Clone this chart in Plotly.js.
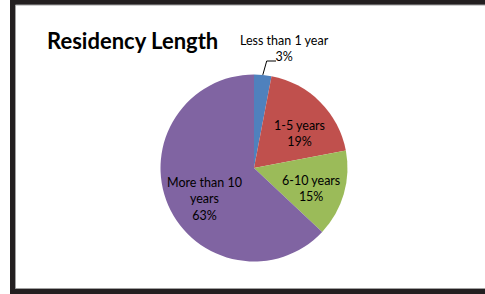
<!DOCTYPE html>
<html>
<head>
<meta charset="utf-8">
<script src="https://cdn.plot.ly/plotly-3.0.1.min.js"></script>
<style>html,body{margin:0;padding:0;background:#fff;}#chart{width:485px;height:294px;}</style>
</head>
<body>
<div id="chart"></div>
<script>
const labels = ['Less than 1 year', '1-5 years', '6-10 years', 'More than 10<br>years'];
const values = [3, 19, 15, 63];
const colors = ['#4F81BD', '#C0504D', '#9BBB59', '#8064A2'];
const titleText = 'Residency Length';

const W = 485, H = 294;
const cx = 254, cy = 168, r = 93.5;
const dom = {
  x: [(cx - r) / W, (cx + r) / W],
  y: [1 - (cy + r) / H, 1 - (cy - r) / H]
};

const total = values.reduce((a, b) => a + b, 0);
const pct = values.map(v => Math.round(v / total * 100) + '%');
const theta = Math.PI * values[0] / total; // mid angle of first slice from 12 o'clock
const ex = cx + r * Math.sin(theta), ey = cy - r * Math.cos(theta);

// label placement (pixel centres of each data label block)
const labelPos = [[284, 49], [299.5, 133.3], [311, 188.3], [204.7, 198.5]];
const px = x => x / W, py = y => 1 - y / H;

const trace = {
  type: 'pie',
  labels: labels,
  values: values,
  sort: false,
  direction: 'clockwise',
  rotation: 0,
  domain: dom,
  marker: {colors: colors, line: {width: 0}},
  textinfo: 'none',
  hoverinfo: 'none',
  showlegend: false
};

const labelFont = {family: 'Lato, sans-serif', size: 12.5, color: '#000'};
const annotations = labels.map((lab, i) => ({
  xref: 'paper', yref: 'paper',
  x: px(labelPos[i][0]), y: py(labelPos[i][1]),
  xanchor: 'center', yanchor: 'middle',
  text: lab + '<br>' + pct[i],
  showarrow: false,
  font: labelFont
}));

const layout = {
  width: W, height: H,
  margin: {l: 0, r: 0, t: 0, b: 0},
  paper_bgcolor: '#fff',
  showlegend: false,
  title: {
    text: titleText,
    x: 47 / W, xanchor: 'left', xref: 'container',
    y: 1 - 41 / H, yanchor: 'middle', yref: 'container',
    font: {family: 'Lato, sans-serif', size: 22, color: '#000', weight: 700}
  },
  shapes: [
    {type: 'rect', xref: 'paper', yref: 'paper', x0: 10 / W, x1: 1.1, y0: -0.1, y1: 1.1,
     fillcolor: '#231f20', line: {width: 0}, layer: 'below'},
    {type: 'rect', xref: 'paper', yref: 'paper', x0: 15.5 / W, x1: 1.1, y0: py(288.5), y1: py(5),
     fillcolor: '#ffffff', line: {color: '#a0a0a0', width: 1}, layer: 'below'},
    {type: 'path', xref: 'paper', yref: 'paper',
     path: 'M' + px(ex) + ',' + py(ey) + ' L' + px(266.7) + ',' + py(61) + ' L' + px(276) + ',' + py(61),
     line: {color: '#000', width: 1}, layer: 'above'}
  ],
  annotations: annotations
};

Plotly.newPlot('chart', [trace], layout, {displayModeBar: false, staticPlot: true});
</script>
</body>
</html>
